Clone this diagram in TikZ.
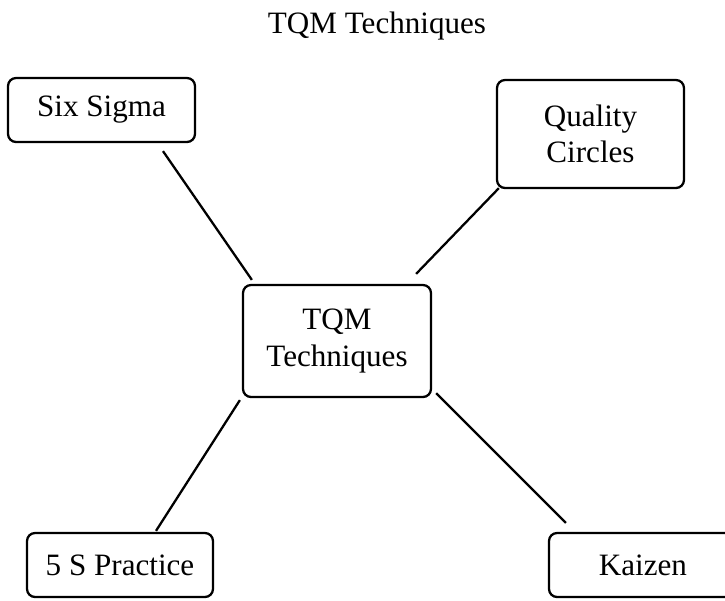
\documentclass[tikz,border=0pt]{standalone}
\usepackage{fontspec}
\setmainfont{Liberation Serif}
\usepackage{tikz}
\usetikzlibrary{calc, positioning}

\begin{document}
\begin{tikzpicture}[
    x=0.02cm, y=-0.02cm,
    technique/.style={rectangle, rounded corners=0.16cm, draw, line width=1.3pt, minimum width=3.74cm, minimum height=1.28cm, inner sep=0pt, text centered, align=center, font=\fontsize{17.7}{20.5}\selectfont},
    link/.style={line width=1.3pt}
]
\useasboundingbox (0,0) rectangle (725,600);

% Title
\node[font=\fontsize{17.7}{20.5}\selectfont] (title) at (377,26) {TQM Techniques};

% Centre and the four techniques
\node[technique, minimum width=3.76cm, minimum height=2.24cm] (tqm) at (337,341) {TQM\\Techniques};
\node[technique] (sixsigma) at (101.5,110) {Six Sigma};
\node[technique, minimum height=2.16cm] (circles) at (590.5,134) {Quality\\Circles};
\node[technique, minimum width=3.72cm] (fives) at (120,565) {5 S Practice};
\node[technique, minimum width=3.76cm] (kaizen) at (643,565) {Kaizen};

% Connections
\draw[link] ($(sixsigma.south)+(61.5,8)$) -- ($(tqm.north west)+(10,-4)$);
\draw[link] ($(circles.south west)+(3,-1)$) -- ($(tqm.north east)+(-16,-10)$);
\draw[link] ($(tqm.south west)+(-2,2)$) -- ($(fives.north)+(36,-1)$);
\draw[link] ($(tqm.south east)+(4,-5)$) -- ($(kaizen.north west)+(18,-9)$);

\end{tikzpicture}
\end{document}
